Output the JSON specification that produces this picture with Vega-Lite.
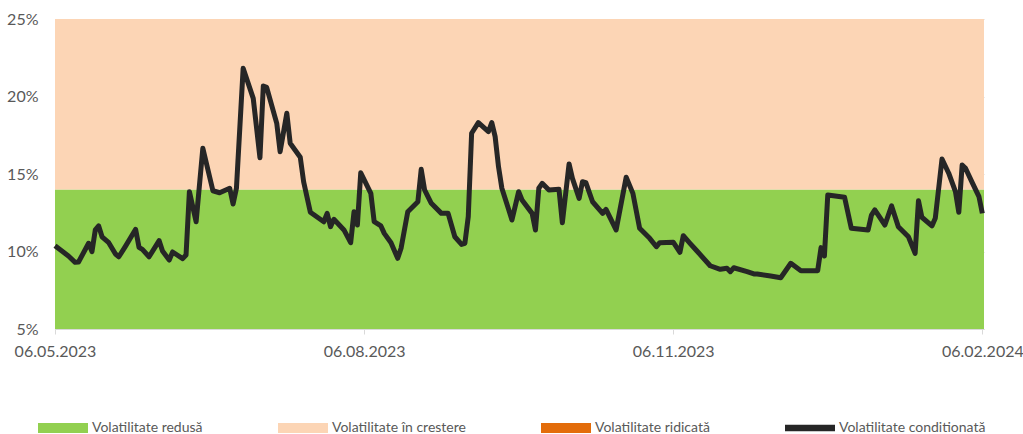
{
  "$schema": "https://vega.github.io/schema/vega-lite/v6.json",
  "width": 929,
  "height": 310,
  "autosize": {"type": "none"},
  "padding": {"left": 55, "top": 19, "right": 39, "bottom": 105},
  "background": "white",
  "config": {
    "view": {"stroke": null},
    "font": "Lato",
    "axis": {"labelFont": "Lato", "labelColor": "#595959", "labelFontSize": 16},
    "legend": {"labelFont": "Lato", "labelColor": "#595959"}
  },
  "datasets": {
    "zone": [
      {"jos": 5, "sus": 14, "zona": "Volatilitate redusă"},
      {"jos": 14, "sus": 25, "zona": "Volatilitate în crestere"}
    ],
    "serie": [
      {"data": "2023-05-06", "v": 10.37},
      {"data": "2023-05-10", "v": 9.71},
      {"data": "2023-05-12", "v": 9.30},
      {"data": "2023-05-13", "v": 9.32},
      {"data": "2023-05-16", "v": 10.53},
      {"data": "2023-05-17", "v": 9.99},
      {"data": "2023-05-18", "v": 11.39},
      {"data": "2023-05-19", "v": 11.65},
      {"data": "2023-05-20", "v": 10.95},
      {"data": "2023-05-22", "v": 10.57},
      {"data": "2023-05-24", "v": 9.84},
      {"data": "2023-05-25", "v": 9.66},
      {"data": "2023-05-27", "v": 10.35},
      {"data": "2023-05-30", "v": 11.43},
      {"data": "2023-05-31", "v": 10.27},
      {"data": "2023-06-01", "v": 10.14},
      {"data": "2023-06-03", "v": 9.66},
      {"data": "2023-06-06", "v": 10.70},
      {"data": "2023-06-07", "v": 10.03},
      {"data": "2023-06-09", "v": 9.45},
      {"data": "2023-06-10", "v": 9.97},
      {"data": "2023-06-13", "v": 9.54},
      {"data": "2023-06-14", "v": 9.77},
      {"data": "2023-06-15", "v": 13.86},
      {"data": "2023-06-17", "v": 11.92},
      {"data": "2023-06-19", "v": 16.66},
      {"data": "2023-06-22", "v": 13.92},
      {"data": "2023-06-24", "v": 13.79},
      {"data": "2023-06-27", "v": 14.08},
      {"data": "2023-06-28", "v": 13.06},
      {"data": "2023-06-29", "v": 14.08},
      {"data": "2023-07-01", "v": 21.82},
      {"data": "2023-07-04", "v": 19.88},
      {"data": "2023-07-06", "v": 16.05},
      {"data": "2023-07-07", "v": 20.68},
      {"data": "2023-07-08", "v": 20.59},
      {"data": "2023-07-11", "v": 18.27},
      {"data": "2023-07-12", "v": 16.44},
      {"data": "2023-07-14", "v": 18.92},
      {"data": "2023-07-15", "v": 16.98},
      {"data": "2023-07-18", "v": 16.08},
      {"data": "2023-07-19", "v": 14.50},
      {"data": "2023-07-21", "v": 12.53},
      {"data": "2023-07-25", "v": 11.92},
      {"data": "2023-07-26", "v": 12.46},
      {"data": "2023-07-27", "v": 11.60},
      {"data": "2023-07-28", "v": 12.08},
      {"data": "2023-07-31", "v": 11.39},
      {"data": "2023-08-02", "v": 10.57},
      {"data": "2023-08-03", "v": 12.57},
      {"data": "2023-08-04", "v": 11.71},
      {"data": "2023-08-05", "v": 15.08},
      {"data": "2023-08-08", "v": 13.75},
      {"data": "2023-08-09", "v": 11.92},
      {"data": "2023-08-11", "v": 11.65},
      {"data": "2023-08-12", "v": 11.17},
      {"data": "2023-08-14", "v": 10.57},
      {"data": "2023-08-16", "v": 9.56},
      {"data": "2023-08-17", "v": 10.21},
      {"data": "2023-08-19", "v": 12.57},
      {"data": "2023-08-22", "v": 13.21},
      {"data": "2023-08-23", "v": 15.30},
      {"data": "2023-08-24", "v": 13.97},
      {"data": "2023-08-26", "v": 13.11},
      {"data": "2023-08-29", "v": 12.46},
      {"data": "2023-08-31", "v": 12.46},
      {"data": "2023-09-02", "v": 10.95},
      {"data": "2023-09-04", "v": 10.46},
      {"data": "2023-09-05", "v": 10.53},
      {"data": "2023-09-06", "v": 12.25},
      {"data": "2023-09-07", "v": 17.63},
      {"data": "2023-09-09", "v": 18.31},
      {"data": "2023-09-12", "v": 17.73},
      {"data": "2023-09-13", "v": 18.31},
      {"data": "2023-09-14", "v": 17.41},
      {"data": "2023-09-15", "v": 15.47},
      {"data": "2023-09-16", "v": 14.08},
      {"data": "2023-09-18", "v": 12.72},
      {"data": "2023-09-19", "v": 12.03},
      {"data": "2023-09-21", "v": 13.86},
      {"data": "2023-09-22", "v": 13.32},
      {"data": "2023-09-25", "v": 12.46},
      {"data": "2023-09-26", "v": 11.39},
      {"data": "2023-09-27", "v": 14.08},
      {"data": "2023-09-28", "v": 14.40},
      {"data": "2023-09-30", "v": 13.97},
      {"data": "2023-10-03", "v": 14.01},
      {"data": "2023-10-04", "v": 11.86},
      {"data": "2023-10-06", "v": 15.65},
      {"data": "2023-10-07", "v": 14.72},
      {"data": "2023-10-09", "v": 13.43},
      {"data": "2023-10-10", "v": 14.50},
      {"data": "2023-10-11", "v": 14.44},
      {"data": "2023-10-13", "v": 13.21},
      {"data": "2023-10-16", "v": 12.46},
      {"data": "2023-10-17", "v": 12.72},
      {"data": "2023-10-20", "v": 11.39},
      {"data": "2023-10-23", "v": 14.79},
      {"data": "2023-10-25", "v": 13.75},
      {"data": "2023-10-27", "v": 11.50},
      {"data": "2023-10-30", "v": 10.85},
      {"data": "2023-11-01", "v": 10.31},
      {"data": "2023-11-02", "v": 10.57},
      {"data": "2023-11-06", "v": 10.60},
      {"data": "2023-11-08", "v": 9.95},
      {"data": "2023-11-09", "v": 11.02},
      {"data": "2023-11-11", "v": 10.53},
      {"data": "2023-11-13", "v": 10.05},
      {"data": "2023-11-17", "v": 9.08},
      {"data": "2023-11-20", "v": 8.85},
      {"data": "2023-11-22", "v": 8.92},
      {"data": "2023-11-23", "v": 8.70},
      {"data": "2023-11-24", "v": 8.95},
      {"data": "2023-11-28", "v": 8.70},
      {"data": "2023-11-30", "v": 8.55},
      {"data": "2023-12-01", "v": 8.55},
      {"data": "2023-12-05", "v": 8.42},
      {"data": "2023-12-08", "v": 8.31},
      {"data": "2023-12-11", "v": 9.24},
      {"data": "2023-12-14", "v": 8.76},
      {"data": "2023-12-19", "v": 8.76},
      {"data": "2023-12-20", "v": 10.25},
      {"data": "2023-12-21", "v": 9.71},
      {"data": "2023-12-22", "v": 13.65},
      {"data": "2023-12-27", "v": 13.50},
      {"data": "2023-12-29", "v": 11.50},
      {"data": "2024-01-03", "v": 11.39},
      {"data": "2024-01-04", "v": 12.35},
      {"data": "2024-01-05", "v": 12.68},
      {"data": "2024-01-08", "v": 11.71},
      {"data": "2024-01-10", "v": 12.94},
      {"data": "2024-01-12", "v": 11.60},
      {"data": "2024-01-15", "v": 10.95},
      {"data": "2024-01-17", "v": 9.88},
      {"data": "2024-01-18", "v": 13.28},
      {"data": "2024-01-19", "v": 12.21},
      {"data": "2024-01-22", "v": 11.65},
      {"data": "2024-01-23", "v": 12.14},
      {"data": "2024-01-25", "v": 15.97},
      {"data": "2024-01-27", "v": 15.05},
      {"data": "2024-01-29", "v": 13.86},
      {"data": "2024-01-30", "v": 12.53},
      {"data": "2024-01-31", "v": 15.58},
      {"data": "2024-02-01", "v": 15.37},
      {"data": "2024-02-03", "v": 14.44},
      {"data": "2024-02-05", "v": 13.54},
      {"data": "2024-02-06", "v": 12.46}
    ]
  },
  "layer": [
    {
      "data": {"name": "zone"},
      "mark": {"type": "rect"},
      "encoding": {
        "y": {
          "field": "jos", "type": "quantitative",
          "scale": {"domain": [5, 25], "nice": false, "zero": false},
          "axis": {
            "values": [5, 10, 15, 20, 25],
            "labelExpr": "datum.value + '%'",
            "domain": false, "ticks": false, "labelPadding": 17,
            "grid": true, "gridColor": "#D9D9D9", "gridWidth": 1,
            "title": null
          }
        },
        "y2": {"field": "sus"},
        "color": {
          "field": "zona", "type": "nominal",
          "scale": {
            "domain": ["Volatilitate redusă", "Volatilitate în crestere", "Volatilitate ridicată", "Volatilitate conditionată"],
            "range": ["#92D050", "#FCD5B5", "#E36C0A", "#262626"]
          },
          "legend": {
            "title": null,
            "orient": "none",
            "direction": "horizontal",
            "legendX": -17,
            "legendY": 384,
            "columns": 4,
            "columnPadding": 75,
            "symbolType": "M-1,-0.2H1V0.2H-1Z",
            "symbolSize": 2500,
            "symbolStrokeWidth": 0,
            "symbolOpacity": 1,
            "labelFontSize": 14,
            "labelOffset": 4,
            "labelColor": "#595959",
            "labelLimit": 400,
            "encode": {
              "symbols": {
                "update": {
                  "shape": {"signal": "datum.value === 'Volatilitate conditionată' ? 'M-1,-0.13H1V0.13H-1Z' : 'M-1,-0.2H1V0.2H-1Z'"}
                }
              }
            }
          }
        }
      }
    },
    {
      "data": {"name": "serie"},
      "mark": {"type": "line", "color": "#262626", "strokeWidth": 5, "strokeJoin": "round"},
      "encoding": {
        "x": {
          "field": "data", "type": "temporal",
          "scale": {
            "type": "utc",
            "domain": [
              {"year": 2023, "month": 5, "date": 6, "utc": true},
              {"year": 2024, "month": 2, "date": 6, "hours": 12, "utc": true}
            ]
          },
          "axis": {
            "values": [
              {"year": 2023, "month": 5, "date": 6, "utc": true},
              {"year": 2023, "month": 8, "date": 6, "utc": true},
              {"year": 2023, "month": 11, "date": 6, "utc": true},
              {"year": 2024, "month": 2, "date": 6, "utc": true}
            ],
            "format": "%d.%m.%Y",
            "labelOverlap": false, "labelFlush": false, "labelBound": false,
            "domainColor": "#D9D9D9", "tickColor": "#D9D9D9", "tickSize": 5,
            "labelPadding": 9, "grid": false, "title": null
          }
        },
        "y": {"field": "v", "type": "quantitative"}
      }
    }
  ]
}
